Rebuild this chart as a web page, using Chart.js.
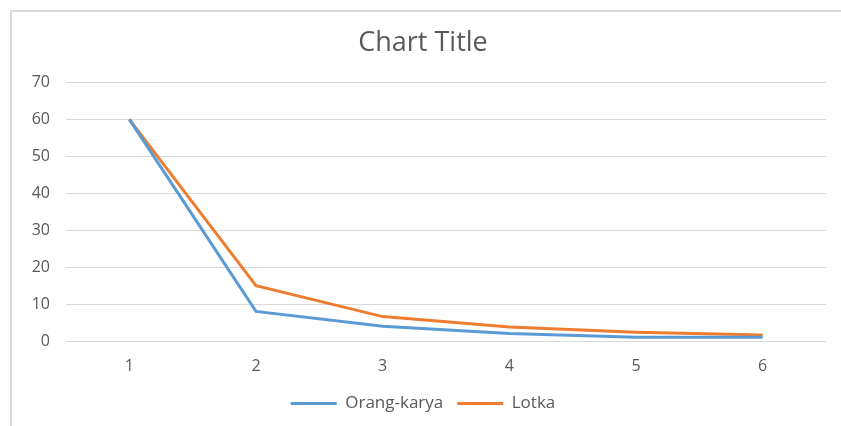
<!DOCTYPE html>
<html>
<head>
<meta charset="utf-8">
<script src="https://cdn.jsdelivr.net/npm/chart.js@4/dist/chart.umd.min.js"></script>
<style>
  html, body { margin: 0; padding: 0; background: #fff; overflow: hidden; }
  #wrap { position: relative; width: 841px; height: 426px; overflow: hidden; }
  #frame { position: absolute; left: 10px; top: 10px; width: 829px; height: 414px;
           border-left: 2px solid #d9d9d9; border-top: 2px solid #d9d9d9; }
  canvas { position: absolute; left: 0; top: 0; }
</style>
</head>
<body>
<div id="wrap">
  <div id="frame"></div>
  <canvas id="chart" width="841" height="426"></canvas>
</div>
<script>
var categories = ["1", "2", "3", "4", "5", "6"];
var orangKarya = [60, 8, 4, 2, 1, 1];
var lotka = [60, 15, 6.6, 3.8, 2.4, 1.6];

var textColor = "#595959";
var fontFamily = "'Open Sans', 'Noto Sans', sans-serif";

const data = {
  labels: categories,
  datasets: [
    {
      label: "Orang-karya",
      data: orangKarya,
      borderColor: "#5B9BD5",
      backgroundColor: "#5B9BD5",
      borderWidth: 3,
      pointRadius: 0,
      tension: 0,
    },
    {
      label: "Lotka",
      data: lotka,
      borderColor: "#ED7D31",
      backgroundColor: "#ED7D31",
      borderWidth: 3,
      pointRadius: 0,
      tension: 0,
    },
  ],
};

const config = {
  type: "line",
  data: data,
  options: {
    responsive: false,
    animation: false,
    layout: {
      padding: { left: 20, right: 15, top: 10, bottom: 4 },
    },
    plugins: {
      title: {
        display: true,
        text: "Chart Title",
        color: textColor,
        font: { family: fontFamily, size: 27, weight: "normal", lineHeight: 1.2 },
        padding: { top: 17, bottom: 23 },
      },
      legend: {
        position: "bottom",
        labels: {
          color: textColor,
          font: { family: fontFamily, size: 17 },
          usePointStyle: true,
          pointStyle: "line",
          pointStyleWidth: 46,
          padding: 14,
        },
      },
      tooltip: { enabled: false },
    },
    scales: {
      x: {
        offset: true,
        grid: { display: false },
        border: { display: false },
        ticks: {
          color: textColor,
          font: { family: fontFamily, size: 16 },
          padding: 8,
        },
        afterFit: function (scale) {
          scale.height = 40;
        },
      },
      y: {
        min: 0,
        max: 70,
        grid: { color: "#d9d9d9", drawTicks: false },
        border: { display: false },
        ticks: {
          stepSize: 10,
          color: textColor,
          font: { family: fontFamily, size: 16 },
          padding: 16,
        },
        afterFit: function (scale) {
          scale.width = 46;
        },
      },
    },
  },
};

var myChart = new Chart(document.getElementById("chart"), config);
</script>
</body>
</html>
